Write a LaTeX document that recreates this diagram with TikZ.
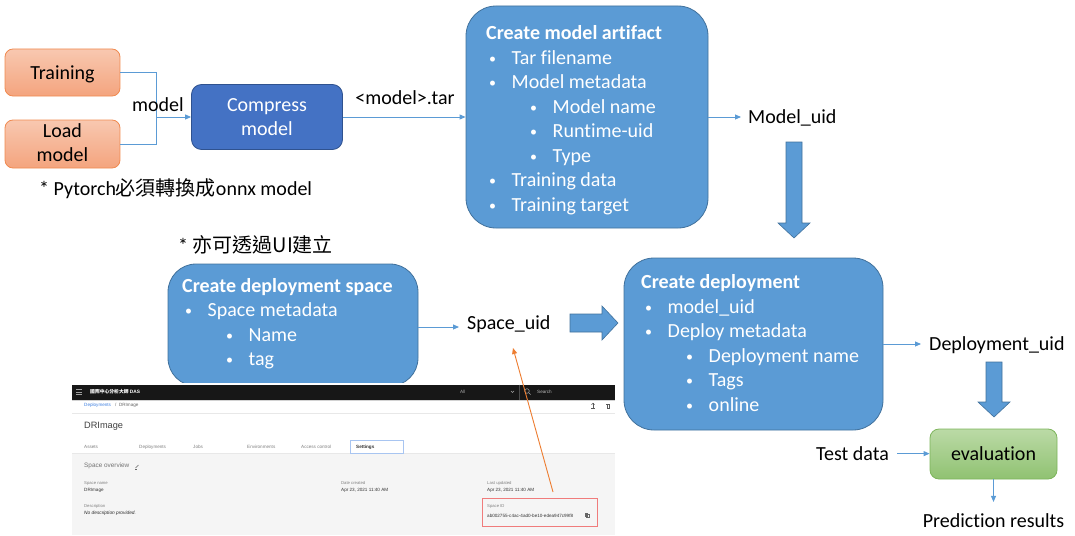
\documentclass[tikz,border=0pt]{standalone}
\usepackage{fontspec}
\setmainfont{Carlito}[Ligatures=NoCommon]
\newfontfamily\cjk{Noto Sans CJK TC}
\newfontfamily\uifont{Liberation Sans}
\usetikzlibrary{arrows.meta}
\definecolor{boxblue}{HTML}{5B9BD5}
\definecolor{boxedge}{HTML}{41719C}
\definecolor{darkblue}{HTML}{4472C4}
\definecolor{darkedge}{HTML}{2F528F}
\definecolor{orangetop}{HTML}{F8C8B0}
\definecolor{orangebot}{HTML}{F4A47E}
\definecolor{orangeedge}{HTML}{F08A50}
\definecolor{greentop}{HTML}{BBDAA6}
\definecolor{greenbot}{HTML}{90C272}
\definecolor{greenedge}{HTML}{7CB45A}
\definecolor{connc}{HTML}{5B9BD5}
\definecolor{orangeline}{HTML}{ED7D31}
\definecolor{uiblue}{HTML}{3D7FE0}
\definecolor{redbox}{HTML}{F07C7C}
\newcommand\itbul{\makebox[22.5pt][l]{\raisebox{1pt}{\fontsize{14}{14}\selectfont •}}}
\begin{document}
\begin{tikzpicture}[x=1pt,y=-1pt,
  txt/.style={font=\fontsize{20}{24}\selectfont, inner sep=0pt, anchor=base west},
  ctxt/.style={txt, anchor=base},
  wtxt/.style={txt, text=white},
  wtitle/.style={txt, text=white, font=\fontsize{20}{24}\selectfont\bfseries},
  bluebox/.style={fill=boxblue, draw=boxedge, line width=0.8pt, inner sep=0pt},
  orangebox/.style={top color=orangetop, bottom color=orangebot, draw=orangeedge, line width=0.8pt, rounded corners=8pt, inner sep=0pt, minimum width=115pt},
  connline/.style={draw=connc, line width=0.9pt},
  conn/.style={connline, -{Triangle[length=6pt,width=5pt]}},
  blockarrow/.style={fill=boxblue, draw=boxedge, line width=0.6pt},
  ui/.style={font=\uifont\fontsize{4.6}{5}\selectfont, inner sep=0pt, anchor=west},
]
\useasboundingbox (0,0) rectangle (1075,535);

% ---------- top row ----------
\node[orangebox, minimum height=47pt] (tr) at (62.5,72.5) {};
\node[orangebox, minimum height=48pt] (lm) at (62.5,144) {};
\node[ctxt] (trt) at (62.5,79.5) {Training};
\node[ctxt] (lmt1) at (62.5,137.5) {Load};
\node[ctxt] (lmt2) at (62.5,161.5) {model};

\node[fill=darkblue, draw=darkedge, line width=0.8pt, rounded corners=10pt, minimum width=151pt, minimum height=65pt, inner sep=0pt] (cmp) at (267,117) {};
\node[ctxt, text=white] (cmpt1) at (267,111.5) {Compress};
\node[ctxt, text=white] (cmpt2) at (267,135) {model};

\coordinate (jn) at (156,117);
\draw[connline] (tr.east) -| (jn);
\draw[connline] (lm.east) -| (jn);
\draw[conn] (jn) -- (cmp.west);
\node[txt] (mlabel) at (132,111.5) {model};

\node[txt] (pyt) at (39,195) {* Pytorch{\cjk 必須轉換成}onnx model};

\node[bluebox, rounded corners=30pt, minimum width=242pt, minimum height=222pt] (art) at (587,117) {};
\node[wtitle] (a0) at (486,40) {Create model artifact};
\node[wtxt] (a1) at (489,64) {\itbul Tar filename};
\node[wtxt] (a2) at (489,88.5) {\itbul Model metadata};
\node[wtxt] (a3) at (530,113) {\itbul Model name};
\node[wtxt] (a4) at (530,137.5) {\itbul Runtime-uid};
\node[wtxt] (a5) at (530,162) {\itbul Type};
\node[wtxt] (a6) at (489,186.5) {\itbul Training data};
\node[wtxt] (a7) at (489,211) {\itbul Training target};

\draw[conn] (cmp.east) -- (art.west);
\node[ctxt] (tarl) at (405,104) {<model>.tar};

\node[txt] (muid) at (748,123) {Model\_uid};
\draw[conn, shorten >=7pt] (art.east) -- (art.east -| muid.west);

\draw[blockarrow] (786,142) -- (802,142) -- (802,223) -- (810,223) -- (794,238) -- (778,223) -- (786,223) -- cycle;

% ---------- middle row ----------
\node[txt] (ui) at (178,252.5) {* {\cjk 亦可透過UI建立}};

\node[bluebox, rounded corners=28pt, minimum width=250pt, minimum height=122pt] (dsp) at (293,325) {};
\node[wtitle] (s0) at (182,292) {Create deployment space};
\node[wtxt] (s1) at (185,316.5) {\itbul Space metadata};
\node[wtxt] (s2) at (226,341) {\itbul Name};
\node[wtxt] (s3) at (226,365.5) {\itbul tag};

\node[txt] (suid) at (467,329) {Space\_uid};
\draw[conn, shorten >=8pt] ([yshift=-2pt]dsp.east) -- ([yshift=-2pt]dsp.east -| suid.west);

\draw[blockarrow] (570,314) -- (602,314) -- (602,306) -- (618,323) -- (602,340) -- (602,332) -- (570,332) -- cycle;

\node[bluebox, rounded corners=30pt, minimum width=259pt, minimum height=172pt] (dep) at (753.5,344) {};
\node[wtitle] (d0) at (641,288.5) {Create deployment};
\node[wtxt] (d1) at (645,313) {\itbul model\_uid};
\node[wtxt] (d2) at (645,337.5) {\itbul Deploy metadata};
\node[wtxt] (d3) at (686,362) {\itbul Deployment name};
\node[wtxt] (d4) at (686,386.5) {\itbul Tags};
\node[wtxt] (d5) at (686,411) {\itbul online};

\node[txt] (duid) at (929,350) {Deployment\_uid};
\draw[conn, shorten >=8pt] (dep.east) -- (dep.east -| duid.west);

\draw[blockarrow] (986,362) -- (1002,362) -- (1002,402) -- (1010,402) -- (994,417) -- (978,402) -- (986,402) -- cycle;

% ---------- evaluation ----------
\node[top color=greentop, bottom color=greenbot, draw=greenedge, line width=0.8pt, rounded corners=9pt, minimum width=127pt, minimum height=50pt, inner sep=0pt] (ev) at (993.5,454) {};
\node[ctxt] (evt) at (993.5,460.5) {evaluation};
\node[txt] (td) at (816,460.5) {Test data};
\draw[conn, shorten <=8pt] (td.east) -- (td.east -| ev.west);
\node[ctxt] (pr) at (993.5,527) {Prediction results};
\draw[conn, shorten >=11pt] (ev.south) -- (pr.north);

% ---------- screenshot ----------
\fill[white] (72,383) rectangle (615,535);
\fill[black!91] (72,384.5) rectangle (615,400);
\foreach \yy in {389.5,392,394.5} \draw[gray!75, line width=0.6pt] (76,\yy) -- (81.5,\yy);
\node[ui, text=white, font=\uifont\fontsize{4.8}{5}\selectfont\bfseries] (uititle) at (90,392) {{\cjk 國際中心分析大師} DAS};
\node[ui, text=gray!70] (uiall) at (460,392) {All};
\draw[gray!70, line width=0.4pt] (511,391) -- (512.5,392.5) -- (514,391);
\draw[black!70, line width=0.5pt] (519,384.5) -- (519,400);
\draw[gray!70, line width=0.5pt] (527,391) circle (2.3);
\draw[gray!70, line width=0.5pt] (528.7,392.7) -- (530.6,394.6);
\node[ui, text=gray!55] (uisearch) at (537,392) {Search};
\fill[gray!35] (72,400) rectangle (615,401.2);
\node[ui, text=uiblue] (bc1) at (84,405) {Deployments};
\node[ui, text=gray!80!black] (bc2) at (115,405) {/\ \ DRImage};
\draw[gray!70!black, line width=0.5pt] (593,403.3) -- (593,407.6);
\draw[gray!70!black, line width=0.5pt] (591.5,404.8) -- (593,403.3) -- (594.5,404.8);
\draw[gray!70!black, line width=0.5pt] (591,408.6) -- (595,408.6);
\draw[gray!70!black, line width=0.5pt] (606.8,404.3) rectangle (609.6,408.4);
\draw[gray!70!black, line width=0.5pt] (606,404.3) -- (610.4,404.3);
\draw[gray!18] (72,413) -- (615,413);
\node[ui, text=black!75, font=\uifont\fontsize{9.2}{10}\selectfont] (uidr) at (84,426) {DRImage};
\node[ui, text=gray] (tab1) at (84,447) {Assets};
\node[ui, text=gray] (tab2) at (139,447) {Deployments};
\node[ui, text=gray] (tab3) at (193,447) {Jobs};
\node[ui, text=gray] (tab4) at (247,447) {Environments};
\node[ui, text=gray] (tab5) at (301,447) {Access control};
\fill[gray!8] (72,453.5) rectangle (615,535);
\draw[gray!18] (72,453.5) -- (615,453.5);
\node[draw=uiblue!45, line width=0.7pt, fill=white, minimum width=53pt, minimum height=13pt, inner sep=0pt] (tab6box) at (376.5,446.5) {};
\node[ui, text=black!80, font=\uifont\fontsize{4.6}{5}\selectfont\bfseries] (tab6) at (356,447) {Settings};
\node[ui, text=gray!90!black, font=\uifont\fontsize{6.4}{7}\selectfont] (sov) at (84,466) {Space overview};
\draw[gray!80!black, line width=0.5pt] (135.5,468) -- (138.5,465);
\draw[gray!80!black, line width=0.4pt] (135,469) -- (137,469);
\node[ui, text=gray, font=\uifont\fontsize{4.2}{5}\selectfont] (l1) at (84,483) {Space name};
\node[ui, text=black!80] (v1) at (84,490.5) {DRImage};
\node[ui, text=gray, font=\uifont\fontsize{4.2}{5}\selectfont] (l2) at (84,506) {Description};
\node[ui, text=black!85, font=\uifont\fontsize{4.8}{5}\selectfont\itshape] (v2) at (84,513) {No description provided.};
\node[ui, text=gray, font=\uifont\fontsize{4.2}{5}\selectfont] (l3) at (341,483) {Date created};
\node[ui, text=black!80] (v3) at (341,490.5) {Apr 23, 2021 11:40 AM};
\node[ui, text=gray, font=\uifont\fontsize{4.2}{5}\selectfont] (l4) at (487,483) {Last updated};
\node[ui, text=black!80] (v4) at (487,490.5) {Apr 23, 2021 11:40 AM};
\node[draw=redbox, line width=1pt, minimum width=115pt, minimum height=28pt, inner sep=0pt] (spaceid) at (539.5,512) {};
\node[ui, text=gray, font=\uifont\fontsize{4.2}{5}\selectfont] (l5) at (487,506) {Space ID};
\node[ui, text=black!80] (v5) at (487,515.5) {ab002755-c4ac-4ad0-be10-edea947c99f8};
\draw[gray!80!black, line width=0.4pt] (585,513) rectangle (587.5,516);
\draw[gray!80!black, line width=0.4pt] (586.3,514.2) rectangle (588.8,517.2);

% ---------- orange pointer ----------
\coordinate (ostart) at (553,492);
\coordinate (otip) at (513,348);
\draw[draw=orangeline, line width=0.9pt, -{Triangle[length=6pt,width=5pt]}] (ostart) -- (otip);
\end{tikzpicture}
\end{document}
